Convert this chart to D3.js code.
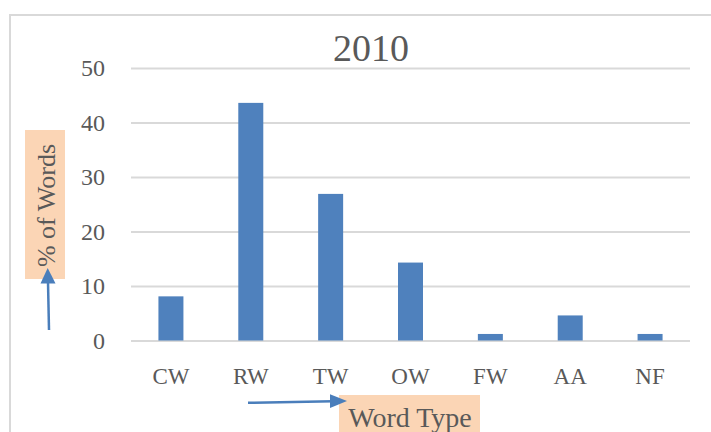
<!DOCTYPE html>
<html>
<head>
<meta charset="utf-8">
<script src="https://cdn.jsdelivr.net/npm/d3@7"></script>
<style>
  html, body { margin: 0; padding: 0; background: #fff; }
  svg { display: block; }
  text { font-family: "Liberation Serif", "DejaVu Serif", serif; fill: #595959; }
</style>
</head>
<body>
<svg id="chart" width="711" height="432"></svg>
<script>
const categories = ["CW", "RW", "TW", "OW", "FW", "AA", "NF"];
const values = [8.1, 43.6, 26.9, 14.3, 1.2, 4.6, 1.2];
const yTicks = [0, 10, 20, 30, 40, 50];
const title = "2010";
const yLabel = "% of Words";
const xLabel = "Word Type";

const svg = d3.select("#chart");

// outer chart border (extends past the right and bottom edge)
svg.append("rect")
  .attr("x", 10).attr("y", 15)
  .attr("width", 740).attr("height", 460)
  .attr("fill", "#fff")
  .attr("stroke", "#d9d9d9").attr("stroke-width", 2);

const x = d3.scaleBand()
  .domain(categories)
  .range([131, 690])
  .paddingInner(0.687)
  .paddingOuter(0.3435);

const y = d3.scaleLinear()
  .domain([0, 50])
  .range([340.5, 68]);

// gridlines + y labels via axis
const yAxis = d3.axisLeft(y).tickValues(yTicks).tickSize(-(690 - 131)).tickPadding(26).tickFormat(d3.format("d"));
const gy = svg.append("g").attr("transform", "translate(131,0)").call(yAxis);
gy.select(".domain").remove();
gy.selectAll(".tick line").attr("stroke", "#d9d9d9").attr("stroke-width", 2);
gy.selectAll(".tick text")
  .attr("font-size", 24)
  .attr("fill", "#595959")
  .style("font-family", '"Liberation Serif", serif');

// bars
svg.append("g").selectAll("rect")
  .data(categories.map((c, i) => ({ c, v: values[i] })))
  .join("rect")
  .attr("x", d => x(d.c))
  .attr("width", x.bandwidth())
  .attr("y", d => y(d.v))
  .attr("height", d => y(0) - y(d.v))
  .attr("fill", "#4f81bd");

// x axis labels
const xAxis = d3.axisBottom(x).tickSize(0).tickPadding(0);
const gx = svg.append("g").attr("transform", "translate(0,368)").call(xAxis);
gx.select(".domain").remove();
gx.selectAll(".tick text")
  .attr("dy", "0.71em")
  .attr("font-size", 23)
  .attr("fill", "#595959")
  .style("font-family", '"Liberation Serif", serif');

// title
svg.append("text")
  .attr("x", 371).attr("y", 60.5)
  .attr("text-anchor", "middle")
  .attr("font-size", 38)
  .text(title);

// y label with background
svg.append("rect")
  .attr("x", 25).attr("y", 130).attr("width", 40).attr("height", 149)
  .attr("fill", "#fbd5b5");
svg.append("text")
  .attr("transform", "translate(55,205.5) rotate(-90)")
  .attr("text-anchor", "middle")
  .attr("font-size", 26)
  .text(yLabel);

// x label with background
svg.append("rect")
  .attr("x", 339).attr("y", 395).attr("width", 141).attr("height", 40)
  .attr("fill", "#fbd5b5");
svg.append("text")
  .attr("x", 410).attr("y", 426.5)
  .attr("text-anchor", "middle")
  .attr("font-size", 28)
  .text(xLabel);

// arrows
const arrowColor = "#4a7ebb";
// horizontal arrow
svg.append("line")
  .attr("x1", 248).attr("y1", 402.8).attr("x2", 333).attr("y2", 401.3)
  .attr("stroke", arrowColor).attr("stroke-width", 2.5);
svg.append("path")
  .attr("d", "M347,401 L330,394.3 L330,408 Z")
  .attr("fill", arrowColor);
// vertical arrow
svg.append("line")
  .attr("x1", 49).attr("y1", 330).attr("x2", 48).attr("y2", 282)
  .attr("stroke", arrowColor).attr("stroke-width", 2.5);
svg.append("path")
  .attr("d", "M47.7,268 L40.5,283.5 L55.5,283.5 Z")
  .attr("fill", arrowColor);
</script>
</body>
</html>
